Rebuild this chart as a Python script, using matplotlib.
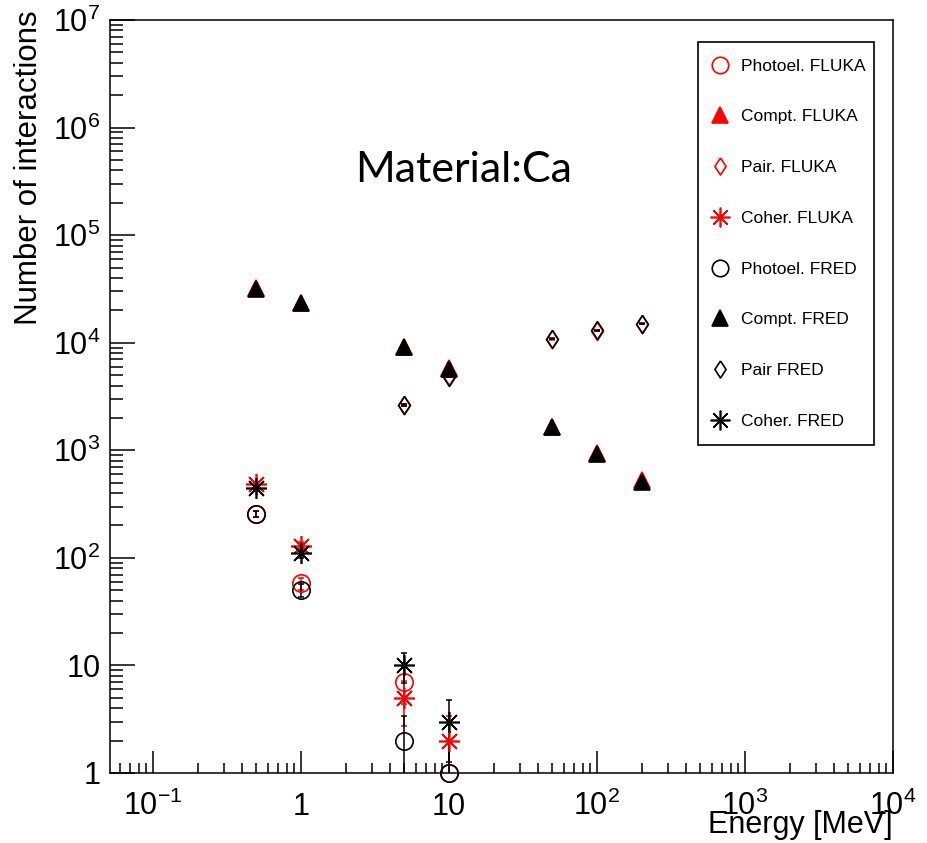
import numpy as np
import matplotlib
matplotlib.use("Agg")
import matplotlib.pyplot as plt
from matplotlib.patches import Rectangle
from matplotlib.ticker import LogLocator, NullFormatter, FixedLocator, FixedFormatter

plt.rcParams['font.family'] = ['Liberation Sans', 'DejaVu Sans']
plt.rcParams['mathtext.fontset'] = 'custom'
plt.rcParams['mathtext.rm'] = 'Liberation Sans'
plt.rcParams['mathtext.it'] = 'Liberation Sans:italic'
plt.rcParams['mathtext.bf'] = 'Liberation Sans:bold'

# energies [MeV]
energy = [0.5, 1, 5, 10, 50, 100, 200]
energy_low = [0.5, 1, 5, 10]
energy_pair = [5, 10, 50, 100, 200]

photo_fluka = [255, 58, 7, 1]
photo_fred = [255, 50, 2, 1]
compt_fluka = [32000, 23500, 9200, 5800, 1660, 940, 530]
compt_fred = [31500, 23500, 9200, 5700, 1640, 920, 505]
pair_fluka = [2650, 4900, 10800, 12900, 14900]
pair_fred = [2620, 4850, 10900, 13000, 15000]
coher_fluka = [485, 128, 5, 2]
coher_fred = [445, 111, 10, 3]

xtick_vals = [0.1, 1, 10, 100, 1000, 10000]
xtick_labels = [r'$\mathregular{10^{-1}}$', '1', '10', r'$\mathregular{10^{2}}$',
                r'$\mathregular{10^{3}}$', r'$\mathregular{10^{4}}$']
ytick_vals = [1, 10, 100, 1e3, 1e4, 1e5, 1e6, 1e7]
ytick_labels = ['1', '10', r'$\mathregular{10^{2}}$', r'$\mathregular{10^{3}}$',
                r'$\mathregular{10^{4}}$', r'$\mathregular{10^{5}}$',
                r'$\mathregular{10^{6}}$', r'$\mathregular{10^{7}}$']

diamond = [(0, 1), (0.65, 0), (0, -1), (-0.65, 0), (0, 1)]
aster = (8, 2, 0)

fig = plt.figure(figsize=(9.28, 8.43), dpi=100)
ax = fig.add_axes([110 / 928, 1 - 773 / 843, 783 / 928, 753 / 843])
ax.set_xscale('log')
ax.set_yscale('log')
ax.set_xlim(0.0512, 1e4)
ax.set_ylim(1, 1e7)


def errs(y):
    y = np.array(y, dtype=float)
    e = np.sqrt(y)
    lo = np.minimum(e, y - 1e-2)
    return [lo, e]


series = [
    # (x, y, color, marker, size, filled, label)
    (energy_low, photo_fluka, 'red', 'o', 12.5, False, 'Photoel. FLUKA'),
    (energy, compt_fluka, 'red', '^', 12, True, 'Compt. FLUKA'),
    (energy_pair, pair_fluka, 'red', diamond, 13, False, 'Pair. FLUKA'),
    (energy_low, coher_fluka, 'red', aster, 15, False, 'Coher. FLUKA'),
    (energy_low, photo_fred, 'black', 'o', 12.5, False, 'Photoel. FRED'),
    (energy, compt_fred, 'black', '^', 12, True, 'Compt. FRED'),
    (energy_pair, pair_fred, 'black', diamond, 13, False, 'Pair FRED'),
    (energy_low, coher_fred, 'black', aster, 15, False, 'Coher. FRED'),
]

for x, y, c, m, ms, filled, lab in series:
    ax.errorbar(x, y, yerr=errs(y), fmt='none', ecolor=c, elinewidth=1.1,
                capsize=2.2, capthick=1.1, zorder=2)
    ax.plot(x, y, linestyle='none', marker=m, markersize=ms,
            markerfacecolor=c if filled else 'none', markeredgecolor=c,
            markeredgewidth=1.2, label=lab, clip_on=False, zorder=3)

ax.xaxis.set_major_locator(FixedLocator(xtick_vals))
ax.xaxis.set_major_formatter(FixedFormatter(xtick_labels))
ax.xaxis.set_minor_locator(LogLocator(base=10, subs=np.arange(2, 10), numticks=20))
ax.xaxis.set_minor_formatter(NullFormatter())
ax.yaxis.set_major_locator(FixedLocator(ytick_vals))
ax.yaxis.set_major_formatter(FixedFormatter(ytick_labels))
ax.yaxis.set_minor_locator(LogLocator(base=10, subs=np.arange(2, 10), numticks=20))
ax.yaxis.set_minor_formatter(NullFormatter())

ax.tick_params(axis='x', which='major', direction='in', length=16, width=1.1,
               labelsize=22, pad=30)
ax.tick_params(axis='x', which='minor', direction='in', length=7.5, width=1.1)
ax.tick_params(axis='y', which='major', direction='in', length=18, width=1.1,
               labelsize=22, pad=7)
ax.tick_params(axis='y', which='minor', direction='in', length=9, width=1.1)
for lab in ax.get_xticklabels():
    lab.set_va('baseline')
for s in ax.spines.values():
    s.set_linewidth(1.1)

fig.text(893 / 928, 1 - 833 / 843, 'Energy [MeV]', ha='right', va='baseline',
         fontsize=22)
fig.text(29 / 928, 1 - 10 / 843, 'Number of interactions', ha='center', va='top',
         rotation=90, fontsize=22.5)
fig.text(464 / 928, 1 - 182 / 843, 'Material:Ca', ha='center', va='baseline',
         fontsize=31, family=['Lato', 'DejaVu Sans'])

leg = ax.legend(loc='upper left', bbox_to_anchor=(698 / 928, 1 - 42 / 843),
                bbox_transform=fig.transFigure, borderaxespad=0, fontsize=12.5,
                frameon=False, labelspacing=2.05, borderpad=0.95,
                handlelength=0.6, handletextpad=0.95, numpoints=1,
                markerscale=0.95)
# legend box drawn on its own so the text can sit close to the right edge
fig.patches.append(Rectangle((698 / 928, 1 - 445 / 843), 176 / 928, 403 / 843,
                             transform=fig.transFigure, fill=False,
                             edgecolor='black', linewidth=1.2, zorder=5))

fig.savefig('out.png', dpi=100)
